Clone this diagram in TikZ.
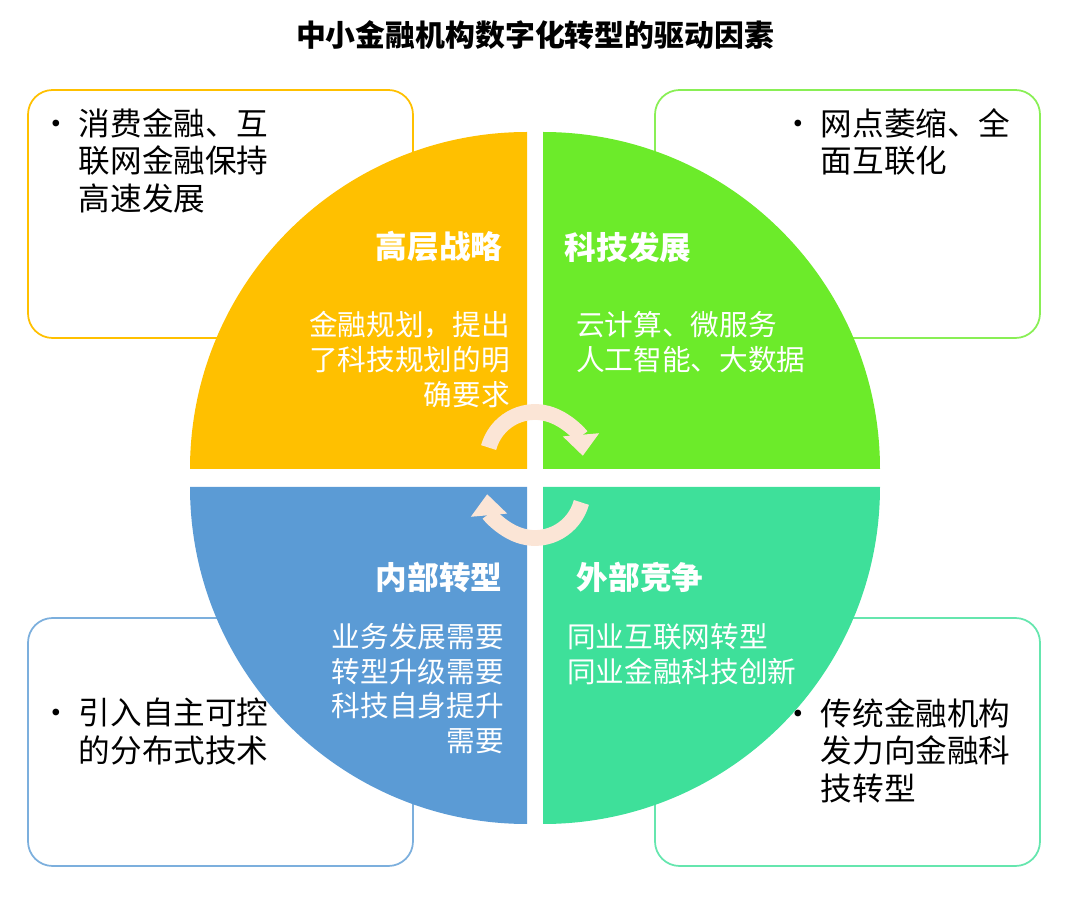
\documentclass[tikz,border=0pt]{standalone}
\usepackage{fontspec}
\setmainfont{Noto Sans CJK SC}
\usetikzlibrary{arrows.meta}
\definecolor{qorange}{HTML}{FFC000}
\definecolor{qgreen}{HTML}{6CEB2A}
\definecolor{qblue}{HTML}{5B9BD5}
\definecolor{qteal}{HTML}{3EE09A}
\definecolor{qpeach}{HTML}{FBE5D6}
\begin{document}
\begin{tikzpicture}[x=0.02cm,y=0.02cm,
  side_box/.style={draw,line width=1pt,rounded corners=14pt},
  head/.style={text=white,font=\bfseries\fontsize{18pt}{21pt}\selectfont},
  body/.style={text=white,font=\fontsize{16.3pt}{19.8pt}\selectfont},
  note/.style={text=black,font=\fontsize{18pt}{21.5pt}\selectfont,align=left,anchor=north west},
  turn/.style={qpeach,line width=9pt,-{Triangle[length=12pt,width=20pt]}}]
\useasboundingbox (0,0) rectangle (1080,897);

\node[font=\bfseries\fontsize{17pt}{20pt}\selectfont] (title) at (535,862) {中小金融机构数字化转型的驱动因素};

% side boxes
\draw[side_box,qorange] (28,559) rectangle (413,807);
\draw[side_box,qgreen!80] (655,559) rectangle (1040,807);
\draw[side_box,qblue!80] (28,31) rectangle (413,279);
\draw[side_box,qteal!80] (655,31) rectangle (1040,279);

\node[note] (n1) at (34,795) {•\hspace{4pt}消费金融、互\\\phantom{•\hspace{4pt}}联网金融保持\\\phantom{•\hspace{4pt}}高速发展};
\node[note] (n2) at (776,795) {•\hspace{4pt}网点萎缩、全\\\phantom{•\hspace{4pt}}面互联化};
\node[note] (n3) at (34,205) {•\hspace{4pt}引入自主可控\\\phantom{•\hspace{4pt}}的分布式技术};
\node[note] (n4) at (776,205) {•\hspace{4pt}传统金融机构\\\phantom{•\hspace{4pt}}发力向金融科\\\phantom{•\hspace{4pt}}技转型};

% quadrants
\fill[qorange] (527,428) -- ++(-337,0) arc[start angle=180,end angle=90,radius=337] -- cycle;
\fill[qgreen] (543,428) -- ++(0,337) arc[start angle=90,end angle=0,radius=337] -- cycle;
\fill[qblue] (527,410) -- ++(0,-337) arc[start angle=270,end angle=180,radius=337] -- cycle;
\fill[qteal] (543,410) -- ++(337,0) arc[start angle=0,end angle=-90,radius=337] -- cycle;

\node[head] (h1) at (439,650) {高层战略};
\node[head] (h2) at (628,650) {科技发展};
\node[head] (h3) at (439,320) {内部转型};
\node[head] (h4) at (640,320) {外部竞争};

\node[body,align=right,anchor=north east] (b1) at (516,592) {金融规划，提出\\了科技规划的明\\确要求};
\node[body,align=left,anchor=north west] (b2) at (570,592) {云计算、微服务\\人工智能、大数据};
\node[body,align=right,anchor=north east] (b3) at (510,280) {业务发展需要\\转型升级需要\\科技自身提升\\需要};
\node[body,align=left,anchor=north west] (b4) at (561,280) {同业互联网转型\\同业金融科技创新};

% center turn arrows
\draw[turn] (535,437)++(165:48) arc[start angle=165,end angle=5,radius=48];
\draw[turn] (535,407)++(-15:48) arc[start angle=-15,end angle=-175,radius=48];
\end{tikzpicture}
\end{document}
